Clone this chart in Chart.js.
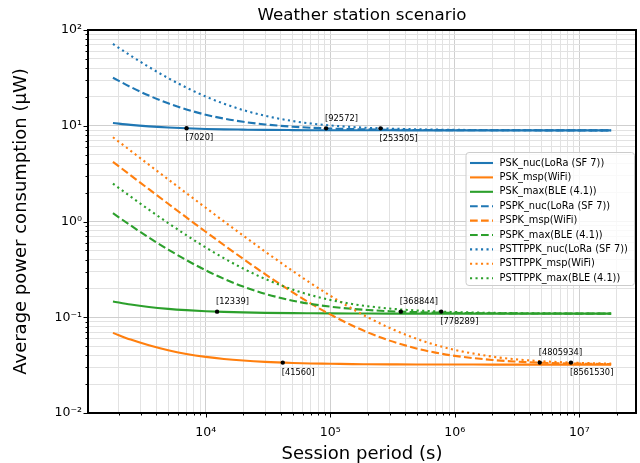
<!DOCTYPE html>
<html><head><meta charset="utf-8">
<script src="https://cdn.jsdelivr.net/npm/chart.js@4/dist/chart.umd.min.js"></script>
<style>html,body{margin:0;padding:0;background:#fff}</style>
</head><body>
<canvas id="c" width="640" height="463"></canvas>
<script>
// ---------- data ----------
const periods = [1800, 2500, 3500, 5000, 7000, 10000, 14000, 20000, 30000, 50000, 70000, 100000, 150000, 200000, 300000, 500000, 700000, 1000000, 2000000, 3000000, 5000000, 10000000, 18000000];

const PSK_nuc = [10.70, 10.21, 9.85, 9.58, 9.40, 9.26, 9.17, 9.11, 9.05, 9.01, 8.99, 8.98, 8.97, 8.966, 8.96, 8.956, 8.954, 8.953, 8.952, 8.951, 8.95, 8.95, 8.95];
const PSK_msp = [0.0687, 0.0584, 0.0509, 0.0452, 0.0414, 0.0386, 0.0367, 0.0353, 0.0342, 0.0333, 0.0329, 0.0327, 0.0324, 0.0323, 0.0322, 0.0321, 0.0321, 0.0321, 0.0320, 0.0320, 0.0320, 0.0320, 0.0320];
const PSK_max = [0.1462, 0.1358, 0.1281, 0.1224, 0.1186, 0.1157, 0.1138, 0.1124, 0.1112, 0.1103, 0.1100, 0.1097, 0.1094, 0.1093, 0.1092, 0.1091, 0.1091, 0.1091, 0.1090, 0.1090, 0.1090, 0.1090, 0.1090];
const PSPK_nuc = [31.73, 25.35, 20.66, 17.15, 14.81, 13.05, 11.88, 11.00, 10.32, 9.77, 9.54, 9.36, 9.22, 9.16, 9.09, 9.03, 9.01, 8.99, 8.97, 8.96, 8.958, 8.954, 8.952];
const PSPK_msp = [4.199, 3.032, 2.175, 1.532, 1.103, 0.782, 0.568, 0.407, 0.282, 0.182, 0.139, 0.107, 0.082, 0.0695, 0.057, 0.047, 0.0427, 0.0395, 0.0358, 0.0345, 0.0335, 0.0328, 0.0324];
const PSPK_max = [1.220, 0.909, 0.680, 0.509, 0.395, 0.309, 0.252, 0.209, 0.1757, 0.149, 0.1376, 0.129, 0.1223, 0.119, 0.1157, 0.113, 0.1119, 0.111, 0.110, 0.1097, 0.1094, 0.1092, 0.1091];
const PSTTPPK_nuc = [71.45, 53.95, 41.09, 31.45, 25.02, 20.20, 16.99, 14.58, 12.70, 11.20, 10.56, 10.08, 9.70, 9.51, 9.33, 9.18, 9.11, 9.06, 9.01, 8.99, 8.97, 8.96, 8.956];
const PSTTPPK_msp = [7.588, 5.472, 3.918, 2.752, 1.975, 1.392, 1.003, 0.712, 0.485, 0.304, 0.226, 0.168, 0.1227, 0.100, 0.0773, 0.0592, 0.0514, 0.0456, 0.0388, 0.0365, 0.0347, 0.0334, 0.0328];
const PSTTPPK_max = [2.481, 1.817, 1.329, 0.963, 0.719, 0.536, 0.414, 0.3225, 0.2513, 0.1944, 0.170, 0.1517, 0.1375, 0.1304, 0.1232, 0.1175, 0.1151, 0.1133, 0.1111, 0.1104, 0.1099, 0.1094, 0.1092];

const seriesLabels = ['PSK_nuc(LoRa (SF 7))', 'PSK_msp(WiFi)', 'PSK_max(BLE (4.1))',
  'PSPK_nuc(LoRa (SF 7))', 'PSPK_msp(WiFi)', 'PSPK_max(BLE (4.1))',
  'PSTTPPK_nuc(LoRa (SF 7))', 'PSTTPPK_msp(WiFi)', 'PSTTPPK_max(BLE (4.1))'];
const seriesValues = [PSK_nuc, PSK_msp, PSK_max, PSPK_nuc, PSPK_msp, PSPK_max, PSTTPPK_nuc, PSTTPPK_msp, PSTTPPK_max];

const markerPeriods = [7020, 92572, 253505, 12339, 368844, 778289, 41560, 4805934, 8561530];
const markerPower = [9.40, 9.393, 9.394, 0.1144, 0.1144, 0.1145, 0.0336, 0.0336, 0.0336];
const markerLabels = ['[7020]', '[92572]', '[253505]', '[12339]', '[368844]', '[778289]', '[41560]', '[4805934]', '[8561530]'];

const xTickValues = [1e4, 1e5, 1e6, 1e7];
const xTickLabels = ['10⁴', '10⁵', '10⁶', '10⁷'];
const yTickValues = [1e-2, 1e-1, 1, 10, 100];
const yTickLabels = ['10⁻²', '10⁻¹', '10⁰', '10¹', '10²'];
const chartTitle = 'Weather station scenario';

// ---------- styles ----------
const colors = ['#1f77b4', '#ff7f0e', '#2ca02c'];
const dashes = [[], [7.7, 3.3], [2.1, 3.4]];
const labelAbove = [false, true, false, true, true, false, false, true, false];
const FONT = 'DejaVu Sans';
Chart.defaults.font.family = FONT;

const datasets = seriesValues.map((vals, i) => ({
  label: seriesLabels[i],
  data: periods.map((p, j) => ({x: p, y: vals[j]})),
  borderColor: colors[i % 3],
  borderDash: dashes[Math.floor(i / 3)],
  borderWidth: 2.1,
  pointRadius: 0,
  fill: false,
  cubicInterpolationMode: 'monotone',
  order: 20 - i
}));
datasets.push({
  label: 'markers', isMarker: true,
  data: markerPeriods.map((p, j) => ({x: p, y: markerPower[j]})),
  showLine: false, pointRadius: 2.2, pointBackgroundColor: '#000', pointBorderWidth: 0,
  borderColor: '#000', order: -10
});

function logTicks(min, max) {
  const t = [];
  for (let e = -3; e <= 8; e++) for (let m = 1; m <= 9; m++) {
    const v = parseFloat((m * Math.pow(10, e)).toPrecision(6));
    if (v >= min * 0.99999 && v <= max * 1.00001) t.push({value: v, major: m === 1});
  }
  return t;
}
function labelFor(value, vals, labs) {
  for (let k = 0; k < vals.length; k++) if (Math.abs(Math.log10(value) - Math.log10(vals[k])) < 1e-6) return labs[k];
  return '';
}

const frameAndTicks = {
  id: 'frameAndTicks',
  afterDatasetsDraw(chart) {
    const {ctx, chartArea: a, scales: {x, y}} = chart;
    ctx.save();
    ctx.strokeStyle = '#000';
    ctx.lineWidth = 1;
    x.ticks.forEach(t => {
      const px = Math.round(x.getPixelForValue(t.value)) + 0.5;
      if (px < a.left - 1 || px > a.right + 1) return;
      ctx.beginPath(); ctx.moveTo(px, a.bottom); ctx.lineTo(px, a.bottom + (t.major ? 4.5 : 2.5)); ctx.stroke();
    });
    y.ticks.forEach(t => {
      const py = Math.round(y.getPixelForValue(t.value)) + 0.5;
      if (py < a.top - 1 || py > a.bottom + 1) return;
      ctx.beginPath(); ctx.moveTo(a.left, py); ctx.lineTo(a.left - (t.major ? 4.5 : 2.5), py); ctx.stroke();
    });
    ctx.lineWidth = 2;
    ctx.strokeRect(a.left, a.top, a.right - a.left, a.bottom - a.top);
    // marker labels
    ctx.fillStyle = '#000';
    ctx.font = '8.3px "' + FONT + '"';
    ctx.textAlign = 'left';
    ctx.textBaseline = 'middle';
    const meta = chart.getDatasetMeta(chart.data.datasets.length - 1);
    meta.data.forEach((pt, j) => {
      ctx.fillText(markerLabels[j], pt.x - 1, pt.y + (labelAbove[j] ? -10 : 10));
    });
    // title centred over the plot area
    ctx.font = '16.7px "' + FONT + '"';
    ctx.textAlign = 'center';
    ctx.fillText(chartTitle, (a.left + a.right) / 2, 16);
    ctx.restore();
  },
  afterDraw(chart) {
    const {ctx} = chart;
    const L = 466, T = 152.5, R = 634.5, B = 285.5, r = 3;
    ctx.save();
    ctx.beginPath();
    ctx.moveTo(L + r, T); ctx.lineTo(R - r, T); ctx.arcTo(R, T, R, T + r, r);
    ctx.lineTo(R, B - r); ctx.arcTo(R, B, R - r, B, r);
    ctx.lineTo(L + r, B); ctx.arcTo(L, B, L, B - r, r);
    ctx.lineTo(L, T + r); ctx.arcTo(L, T, L + r, T, r);
    ctx.closePath();
    ctx.fillStyle = 'rgba(255,255,255,0.8)';
    ctx.fill();
    ctx.strokeStyle = '#cccccc'; ctx.lineWidth = 1; ctx.stroke();
    ctx.font = '9.8px "' + FONT + '"';
    ctx.textBaseline = 'middle'; ctx.textAlign = 'left';
    chart.data.datasets.filter(d => !d.isMarker).forEach((d, i) => {
      const yy = 163 + i * 14.4;
      ctx.strokeStyle = d.borderColor; ctx.lineWidth = 2.1; ctx.setLineDash(d.borderDash);
      ctx.beginPath(); ctx.moveTo(470, yy); ctx.lineTo(493, yy); ctx.stroke();
      ctx.setLineDash([]);
      ctx.fillStyle = '#000';
      ctx.fillText(d.label, 499.5, yy);
    });
    ctx.restore();
  }
};

new Chart(document.getElementById('c'), {
  type: 'line',
  data: {datasets},
  plugins: [frameAndTicks],
  options: {
    responsive: false, animation: false, devicePixelRatio: 1,
    layout: {padding: {left: 0, right: 3, top: 30, bottom: 0}},
    plugins: {legend: {display: false}, tooltip: {enabled: false}, title: {display: false}},
    scales: {
      x: {
        type: 'logarithmic', min: 1135, max: 2.85e7,
        afterBuildTicks(s) { s.ticks = logTicks(s.min, s.max); },
        afterFit(s) { s.height = 50; },
        border: {display: false},
        grid: {drawTicks: false, lineWidth: 1, color: c => (c.tick && c.tick.major) ? '#cfcfcf' : '#e2e2e2'},
        ticks: {autoSkip: false, maxRotation: 0, minRotation: 0, padding: 12, color: '#000',
          font: {family: FONT, size: 12.5},
          callback: (v) => labelFor(v, xTickValues, xTickLabels)},
        title: {display: true, text: 'Session period (s)', color: '#000',
          font: {family: FONT, size: 18, lineHeight: 1}, padding: {top: 0, bottom: 0}}
      },
      y: {
        type: 'logarithmic', min: 0.01, max: 100,
        afterBuildTicks(s) { s.ticks = logTicks(s.min, s.max); },
        afterFit(s) { s.width = 88; },
        border: {display: false},
        grid: {drawTicks: false, lineWidth: 1, color: c => (c.tick && c.tick.major) ? '#cfcfcf' : '#e2e2e2'},
        ticks: {autoSkip: false, padding: 6, color: '#000', font: {family: FONT, size: 12.5},
          callback: (v) => labelFor(v, yTickValues, yTickLabels)},
        title: {display: true, text: 'Average power consumption (μW)', color: '#000',
          font: {family: FONT, size: 18, lineHeight: 1.2}, padding: {top: 11, bottom: 0}}
      }
    }
  }
});
</script>
</body></html>
